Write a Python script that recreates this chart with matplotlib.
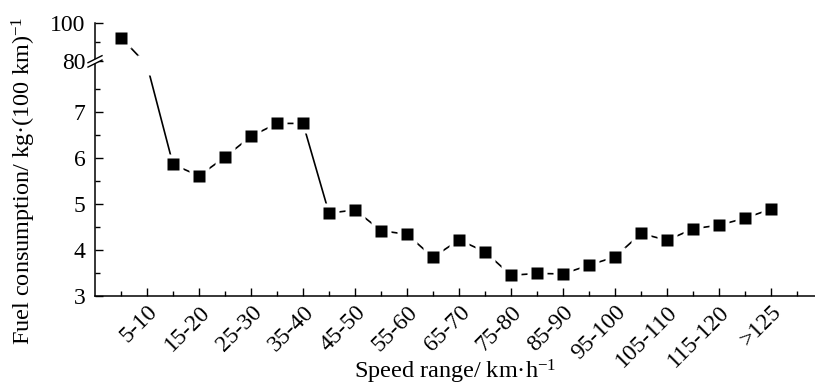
import matplotlib
matplotlib.use("Agg")
import matplotlib.pyplot as plt
import matplotlib.transforms as mtransforms
from matplotlib.lines import Line2D
from matplotlib.patches import Polygon
import numpy as np

plt.rcParams['font.family'] = ['Liberation Serif', 'DejaVu Serif']
plt.rcParams['mathtext.fontset'] = 'custom'
plt.rcParams['mathtext.rm'] = 'Liberation Serif'
plt.rcParams['mathtext.it'] = 'Liberation Serif:italic'

# speed bins (km/h) and fuel consumption (kg per 100 km)
speed_bins = ["0-5", "5-10", "10-15", "15-20", "20-25", "25-30", "30-35", "35-40",
              "40-45", "45-50", "50-55", "55-60", "60-65", "65-70", "70-75", "75-80",
              "80-85", "85-90", "90-95", "95-100", "100-105", "105-110", "110-115",
              "115-120", "120-125", ">125"]
fuel = [92.4, 24.0, 5.86, 5.61, 6.02, 6.47, 6.75, 6.75, 4.80, 4.87, 4.42, 4.34, 3.84,
        4.22, 3.96, 3.45, 3.49, 3.48, 3.67, 3.85, 4.36, 4.21, 4.46, 4.54, 4.69, 4.89]
hidden = [1]  # this point sits inside the axis break

# broken y axis: 3-8 linear, 8-80 squeezed into a thin gap, 80-100 compressed
GAP = 0.098
UP = 0.0417


def forward(v):
    v = np.asarray(v, dtype=float)
    return np.where(v <= 8, v,
                    np.where(v < 80, 8 + (v - 8) * GAP / 72, 8 + GAP + (v - 80) * UP))


def inverse(u):
    u = np.asarray(u, dtype=float)
    return np.where(u <= 8, u,
                    np.where(u < 8 + GAP, 8 + (u - 8) * 72 / GAP, 80 + (u - 8 - GAP) / UP))


fig = plt.figure(figsize=(8.15, 3.87), dpi=100)
ax = fig.add_axes([95 / 815, 1 - 296 / 387, 720 / 815, 273 / 387])
ax.set_yscale('function', functions=(forward, inverse))

x = np.arange(len(fuel))
shown = [i for i in range(len(fuel)) if i not in hidden]

ax.plot(x, fuel, color='black', lw=1.2, zorder=2, clip_on=False)
# white squares leave a small gap between line and markers
ax.plot(x, fuel, ls='none', marker='s', ms=14.0, mfc='white', mec='none', zorder=3, clip_on=False)
ax.plot(x, fuel, ls='none', marker='s', ms=9.0, mfc='black', mec='none', zorder=4,
        markevery=shown, clip_on=False)

ax.set_xlim(-1, 26.69)
ax.set_ylim(3, 100)

major = list(range(1, len(speed_bins), 2))
ax.set_xticks(major)
ax.set_xticklabels([speed_bins[i] for i in major], rotation=45, ha='right',
                   rotation_mode='anchor', fontsize=17)
ax.set_xticks(list(range(0, 27, 2)), minor=True)

ax.set_yticks([3, 4, 5, 6, 7, 80, 100])
ax.set_yticklabels(['3', '4', '5', '6', '7', '80', '100'], fontsize=17)
ax.set_yticks([3.5, 4.5, 5.5, 6.5, 7.5, 90], minor=True)
ax.yaxis.set_minor_formatter(plt.NullFormatter())

ax.tick_params(which='both', direction='in', width=1.0)
ax.tick_params(which='major', length=6)
ax.tick_params(which='minor', length=3.5)
ax.tick_params(axis='x', which='major', pad=4)
ax.tick_params(axis='y', which='major', pad=7)

ax.spines['top'].set_visible(False)
ax.spines['right'].set_visible(False)
for s in ['left', 'bottom']:
    ax.spines[s].set_linewidth(1.1)

ax.set_xlabel('Speed range/ km·h$^{-1}$', fontsize=17.5, va='baseline')
ax.xaxis.set_label_coords(0.5, -(379 - 296) / 273)
ax.set_ylabel('Fuel consumption/ kg·(100 km)$^{-1}$', fontsize=17.5)
ax.yaxis.set_label_coords(-(95 - 38) / 720, (296 - 181) / 273)

# break marks on the y axis at 80
px, py = ax.get_yaxis_transform().transform((0, 80))
ident = mtransforms.IdentityTransform()
fig.add_artist(Polygon([(px - 7, py - 5), (px + 7, py + 1), (px + 7, py + 5), (px - 7, py - 1)],
                       closed=True, fc='white', ec='none', transform=ident, zorder=5))
for dy in (-2.2, 2.2):
    fig.add_artist(Line2D([px - 7, px + 7], [py - 3.5 + dy, py + 3.5 + dy], color='black',
                          lw=1.0, transform=ident, zorder=6))

fig.savefig('out.png', dpi=100)
